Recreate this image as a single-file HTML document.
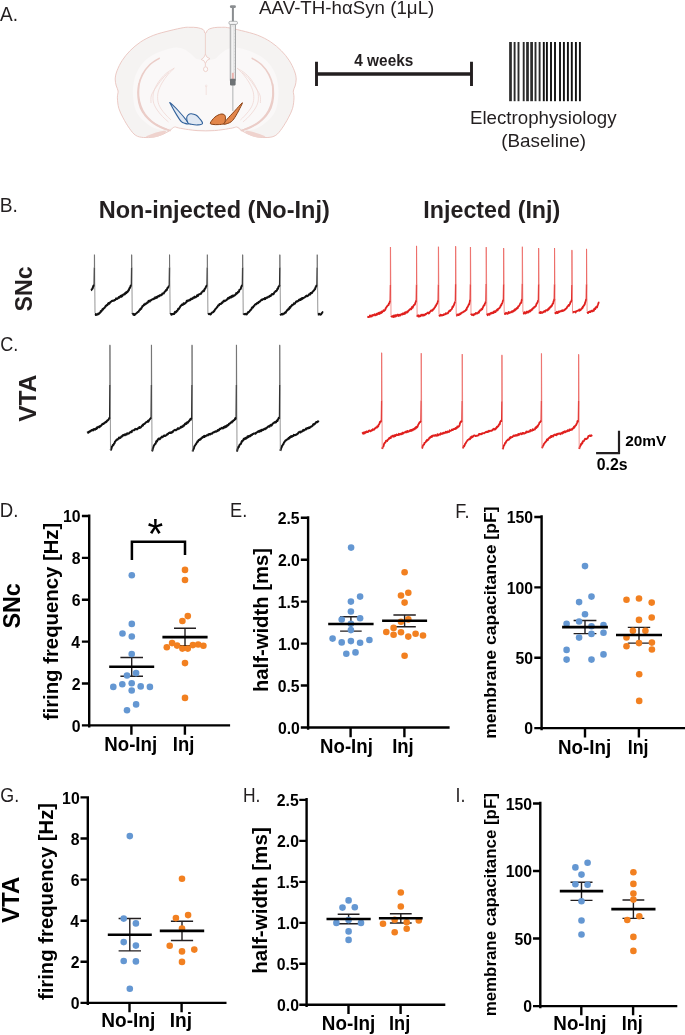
<!DOCTYPE html>
<html><head><meta charset="utf-8"><style>
html,body{margin:0;padding:0;background:#fff;}
svg{display:block;font-family:"Liberation Sans",sans-serif;filter:blur(0.3px);}
</style></head><body>
<svg width="685" height="1035" viewBox="0 0 685 1035">
<rect width="685" height="1035" fill="#fff"/>
<path d="M205.40 33.50C204.57 33.50 204.60 30.58 203.20 29.60C201.80 28.62 199.20 27.98 197.00 27.60C194.80 27.22 192.20 27.30 190.00 27.30C187.80 27.30 187.13 27.05 183.80 27.60C180.47 28.15 175.00 29.33 170.00 30.60C165.00 31.87 158.68 33.32 153.80 35.20C148.92 37.08 144.65 39.32 140.70 41.90C136.75 44.48 133.17 47.63 130.10 50.70C127.03 53.77 124.48 56.95 122.30 60.30C120.12 63.65 118.18 67.68 117.00 70.80C115.82 73.92 115.32 76.47 115.20 79.00C115.08 81.53 115.82 84.00 116.30 86.00C116.78 88.00 117.92 89.03 118.10 91.00C118.28 92.97 117.28 94.92 117.40 97.80C117.52 100.68 117.85 104.95 118.80 108.30C119.75 111.65 121.35 114.58 123.10 117.90C124.85 121.22 127.22 125.30 129.30 128.20C131.38 131.10 133.23 133.75 135.60 135.30C137.97 136.85 140.47 137.22 143.50 137.50C146.53 137.78 150.55 137.55 153.80 137.00C157.05 136.45 160.30 135.30 163.00 134.20C165.70 133.10 168.10 131.60 170.00 130.40C171.90 129.20 172.98 127.42 174.40 127.00C175.82 126.58 176.17 127.47 178.50 127.90C180.83 128.33 185.32 129.15 188.40 129.60C191.48 130.05 194.12 130.38 197.00 130.60C199.88 130.82 202.80 130.90 205.70 130.90C208.60 130.90 211.52 130.82 214.40 130.60C217.28 130.38 219.92 130.05 223.00 129.60C226.08 129.15 230.57 128.33 232.90 127.90C235.23 127.47 235.58 126.58 237.00 127.00C238.42 127.42 239.50 129.20 241.40 130.40C243.30 131.60 245.70 133.10 248.40 134.20C251.10 135.30 254.35 136.45 257.60 137.00C260.85 137.55 264.87 137.78 267.90 137.50C270.93 137.22 273.43 136.85 275.80 135.30C278.17 133.75 280.02 131.10 282.10 128.20C284.18 125.30 286.55 121.22 288.30 117.90C290.05 114.58 291.65 111.65 292.60 108.30C293.55 104.95 293.88 100.68 294.00 97.80C294.12 94.92 293.12 92.97 293.30 91.00C293.48 89.03 294.62 88.00 295.10 86.00C295.58 84.00 296.32 81.53 296.20 79.00C296.08 76.47 295.58 73.92 294.40 70.80C293.22 67.68 291.28 63.65 289.10 60.30C286.92 56.95 284.37 53.77 281.30 50.70C278.23 47.63 274.65 44.48 270.70 41.90C266.75 39.32 262.48 37.08 257.60 35.20C252.72 33.32 246.40 31.87 241.40 30.60C236.40 29.33 230.93 28.15 227.60 27.60C224.27 27.05 223.60 27.30 221.40 27.30C219.20 27.30 216.60 27.22 214.40 27.60C212.20 27.98 209.70 28.62 208.20 29.60C206.70 30.58 206.23 33.50 205.40 33.50Z" fill="#F5F3F2" stroke="#EAC4BE" stroke-width="0.9"/>
<path d="M205.70 60.20C203.97 60.20 202.20 60.13 200.50 59.80C198.80 59.47 197.17 59.25 195.50 58.20C193.83 57.15 192.42 55.00 190.50 53.50C188.58 52.00 186.42 50.18 184.00 49.20C181.58 48.22 179.17 47.47 176.00 47.60C172.83 47.73 169.00 48.68 165.00 50.00C161.00 51.32 155.83 53.17 152.00 55.50C148.17 57.83 144.75 60.67 142.00 64.00C139.25 67.33 137.00 71.33 135.50 75.50C134.00 79.67 133.32 84.67 133.00 89.00C132.68 93.33 132.97 97.58 133.60 101.50C134.23 105.42 135.18 109.33 136.80 112.50C138.42 115.67 140.77 118.08 143.30 120.50C145.83 122.92 149.05 125.42 152.00 127.00C154.95 128.58 158.33 129.67 161.00 130.00C163.67 130.33 165.83 129.60 168.00 129.00C170.17 128.40 172.17 126.70 174.00 126.40C175.83 126.10 176.33 126.80 179.00 127.20C181.67 127.60 185.55 128.33 190.00 128.80C194.45 129.27 200.47 130.00 205.70 130.00C210.93 130.00 216.95 129.27 221.40 128.80C225.85 128.33 229.73 127.60 232.40 127.20C235.07 126.80 235.57 126.10 237.40 126.40C239.23 126.70 241.23 128.40 243.40 129.00C245.57 129.60 247.73 130.33 250.40 130.00C253.07 129.67 256.45 128.58 259.40 127.00C262.35 125.42 265.57 122.92 268.10 120.50C270.63 118.08 272.98 115.67 274.60 112.50C276.22 109.33 277.17 105.42 277.80 101.50C278.43 97.58 278.72 93.33 278.40 89.00C278.08 84.67 277.40 79.67 275.90 75.50C274.40 71.33 272.15 67.33 269.40 64.00C266.65 60.67 263.23 57.83 259.40 55.50C255.57 53.17 250.40 51.32 246.40 50.00C242.40 48.68 238.57 47.73 235.40 47.60C232.23 47.47 229.82 48.22 227.40 49.20C224.98 50.18 222.82 52.00 220.90 53.50C218.98 55.00 217.57 57.15 215.90 58.20C214.23 59.25 212.60 59.47 210.90 59.80C209.20 60.13 207.43 60.20 205.70 60.20Z" fill="#FAF8F8" stroke="none"/>
<path d="M159.20 58.30C157.67 59.33 152.78 61.80 150.00 64.50C147.22 67.20 144.40 70.92 142.50 74.50C140.60 78.08 139.32 82.08 138.60 86.00C137.88 89.92 137.88 94.33 138.20 98.00C138.52 101.67 139.28 105.00 140.50 108.00C141.72 111.00 143.50 113.58 145.50 116.00C147.50 118.42 149.92 120.58 152.50 122.50C155.08 124.42 158.08 126.15 161.00 127.50C163.92 128.85 168.50 130.08 170.00 130.60" fill="none" stroke="#EBCDC8" stroke-width="1.6" stroke-linecap="round"/>
<path d="M252.20 58.30C253.73 59.33 258.62 61.80 261.40 64.50C264.18 67.20 267.00 70.92 268.90 74.50C270.80 78.08 272.08 82.08 272.80 86.00C273.52 89.92 273.52 94.33 273.20 98.00C272.88 101.67 272.12 105.00 270.90 108.00C269.68 111.00 267.90 113.58 265.90 116.00C263.90 118.42 261.48 120.58 258.90 122.50C256.32 124.42 253.32 126.15 250.40 127.50C247.48 128.85 242.90 130.08 241.40 130.60" fill="none" stroke="#EBCDC8" stroke-width="1.6" stroke-linecap="round"/>
<path d="M138.80 84.00C138.77 86.00 138.27 92.33 138.60 96.00C138.93 99.67 139.73 102.97 140.80 106.00C141.87 109.03 143.23 111.70 145.00 114.20C146.77 116.70 148.98 118.98 151.40 121.00C153.82 123.02 156.73 124.83 159.50 126.30C162.27 127.77 166.58 129.22 168.00 129.80" fill="none" stroke="#EBCDC8" stroke-width="1.6" stroke-linecap="round"/>
<path d="M272.60 84.00C272.63 86.00 273.13 92.33 272.80 96.00C272.47 99.67 271.67 102.97 270.60 106.00C269.53 109.03 268.17 111.70 266.40 114.20C264.63 116.70 262.42 118.98 260.00 121.00C257.58 123.02 254.67 124.83 251.90 126.30C249.13 127.77 244.82 129.22 243.40 129.80" fill="none" stroke="#EBCDC8" stroke-width="1.6" stroke-linecap="round"/>
<path d="M174.30 68.20C172.92 69.08 168.63 71.20 166.00 73.50C163.37 75.80 160.53 79.00 158.50 82.00C156.47 85.00 154.68 88.33 153.80 91.50C152.92 94.67 152.75 98.08 153.20 101.00C153.65 103.92 154.95 106.42 156.50 109.00C158.05 111.58 160.50 114.33 162.50 116.50C164.50 118.67 167.50 121.08 168.50 122.00" fill="none" stroke="#EFD6D2" stroke-width="0.75"/>
<path d="M237.10 68.20C238.48 69.08 242.77 71.20 245.40 73.50C248.03 75.80 250.87 79.00 252.90 82.00C254.93 85.00 256.72 88.33 257.60 91.50C258.48 94.67 258.65 98.08 258.20 101.00C257.75 103.92 256.45 106.42 254.90 109.00C253.35 111.58 250.90 114.33 248.90 116.50C246.90 118.67 243.90 121.08 242.90 122.00" fill="none" stroke="#EFD6D2" stroke-width="0.75"/>
<path d="M174.30 68.20C173.25 69.25 170.05 72.03 168.00 74.50C165.95 76.97 163.63 80.08 162.00 83.00C160.37 85.92 158.90 89.08 158.20 92.00C157.50 94.92 157.42 97.83 157.80 100.50C158.18 103.17 159.13 105.58 160.50 108.00C161.87 110.42 164.25 113.00 166.00 115.00C167.75 117.00 170.17 119.17 171.00 120.00" fill="none" stroke="#EFD6D2" stroke-width="0.75"/>
<path d="M237.10 68.20C238.15 69.25 241.35 72.03 243.40 74.50C245.45 76.97 247.77 80.08 249.40 83.00C251.03 85.92 252.50 89.08 253.20 92.00C253.90 94.92 253.98 97.83 253.60 100.50C253.22 103.17 252.27 105.58 250.90 108.00C249.53 110.42 247.15 113.00 245.40 115.00C243.65 117.00 241.23 119.17 240.40 120.00" fill="none" stroke="#EFD6D2" stroke-width="0.75"/>
<path d="M169.00 72.50C168.00 73.42 165.00 75.75 163.00 78.00C161.00 80.25 158.92 83.17 157.00 86.00C155.08 88.83 152.50 92.17 151.50 95.00C150.50 97.83 151.08 101.67 151.00 103.00" fill="none" stroke="#EFD6D2" stroke-width="0.75"/>
<path d="M242.40 72.50C243.40 73.42 246.40 75.75 248.40 78.00C250.40 80.25 252.48 83.17 254.40 86.00C256.32 88.83 258.90 92.17 259.90 95.00C260.90 97.83 260.32 101.67 260.40 103.00" fill="none" stroke="#EFD6D2" stroke-width="0.75"/>
<path d="M146.00 136.80C145.50 136.27 149.67 134.88 152.00 134.00C154.33 133.12 157.67 132.00 160.00 131.50C162.33 131.00 165.50 130.50 166.00 131.00C166.50 131.50 164.83 133.47 163.00 134.50C161.17 135.53 157.83 136.82 155.00 137.20C152.17 137.58 146.50 137.33 146.00 136.80Z" fill="#EFD3CE"/>
<path d="M265.40 136.80C265.90 136.27 261.73 134.88 259.40 134.00C257.07 133.12 253.73 132.00 251.40 131.50C249.07 131.00 245.90 130.50 245.40 131.00C244.90 131.50 246.57 133.47 248.40 134.50C250.23 135.53 253.57 136.82 256.40 137.20C259.23 137.58 264.90 137.33 265.40 136.80Z" fill="#EFD3CE"/>
<path d="M205.4 33.5V54.1" stroke="#EBC9C3" stroke-width="0.8" fill="none"/>
<path d="M205.4 54.1Q206.2 57.8 210 58.7Q206.2 60 205.4 63.6Q204.6 60 201.2 59.5Q204.6 57.8 205.4 54.1Z" fill="#FCFBFB" stroke="#EBC9C3" stroke-width="0.8"/>
<path d="M205.4 63.6V66.6" stroke="#EBC9C3" stroke-width="0.8"/>
<ellipse cx="205.6" cy="69.2" rx="2.1" ry="2.4" fill="#FCFBFB" stroke="#EBC9C3" stroke-width="0.8"/>
<path d="M206.2 86.2V95" stroke="#F0DAD6" stroke-width="0.7"/><circle cx="206.2" cy="85.9" r="0.9" fill="none" stroke="#F0DAD6" stroke-width="0.6"/>
<path d="M170.30 102.90C171.45 103.78 175.37 107.53 178.10 110.50C180.83 113.47 185.00 118.45 186.70 120.70C188.40 122.95 188.63 123.57 188.30 124.00C187.97 124.43 185.85 123.68 184.70 123.30C183.55 122.92 182.72 123.07 181.40 121.70C180.08 120.33 178.50 117.85 176.80 115.10C175.10 112.35 172.28 107.23 171.20 105.20C170.12 103.17 169.15 102.02 170.30 102.90Z" fill="#E0E8F3" stroke="#30609A" stroke-width="1.1" stroke-linejoin="round"/>
<path d="M186.70 117.70C186.78 116.30 187.73 115.25 188.50 114.60C189.27 113.95 190.07 113.72 191.30 113.80C192.53 113.88 194.53 114.32 195.90 115.10C197.27 115.88 198.40 117.13 199.50 118.50C200.60 119.87 202.77 122.23 202.50 123.30C202.23 124.37 199.77 124.73 197.90 124.90C196.03 125.07 192.95 124.62 191.30 124.30C189.65 123.98 188.77 124.10 188.00 123.00C187.23 121.90 186.62 119.10 186.70 117.70Z" fill="#E0E8F3" stroke="#30609A" stroke-width="1.1" stroke-linejoin="round"/>
<path d="M210.30 123.00C210.63 121.78 213.15 118.58 214.90 117.10C216.65 115.62 219.17 114.43 220.80 114.10C222.43 113.77 223.93 114.28 224.70 115.10C225.47 115.92 225.50 117.58 225.40 119.00C225.30 120.42 225.32 122.67 224.10 123.60C222.88 124.53 219.97 124.47 218.10 124.60C216.23 124.73 214.20 124.67 212.90 124.40C211.60 124.13 209.97 124.22 210.30 123.00Z" fill="#E3864A" stroke="#8A4216" stroke-width="1.0" stroke-linejoin="round"/>
<path d="M242.10 102.90C243.13 102.13 241.83 104.37 240.80 106.50C239.77 108.63 237.48 113.17 235.90 115.70C234.32 118.23 233.17 120.27 231.30 121.70C229.43 123.13 225.90 123.98 224.70 124.30C223.50 124.62 223.67 124.48 224.10 123.60C224.53 122.72 225.55 121.08 227.30 119.00C229.05 116.92 232.13 113.78 234.60 111.10C237.07 108.42 241.07 103.67 242.10 102.90Z" fill="#E3864A" stroke="#8A4216" stroke-width="1.0" stroke-linejoin="round"/>
<path d="M232.8 85V111" stroke="#C4C5C6" stroke-width="1.4"/>
<rect x="230.2" y="24.3" width="5.2" height="56" fill="#E6E6E6" stroke="#939597" stroke-width="0.8"/>
<path d="M232.6 27V76" stroke="#F4F4F4" stroke-width="1.0"/>
<path d="M234.6 30V75" stroke="#B8B8B8" stroke-width="0.4" stroke-dasharray="0.6 2.4"/>
<rect x="231.9" y="72.8" width="1.9" height="6.5" fill="#EBB3AE"/>
<rect x="230.0" y="78.8" width="5.6" height="6.6" rx="0.8" fill="#6E7275"/>
<rect x="231.9" y="7.5" width="2" height="15" fill="#8A8D90"/>
<rect x="229.9" y="5.2" width="6" height="2.9" rx="1.4" fill="#8A8D90"/>
<rect x="228.9" y="21.3" width="8.6" height="3.1" rx="1.4" fill="#F6F6F6" stroke="#9A9C9E" stroke-width="0.7"/>
<path d="M316.5 74H471.5" stroke="#231F20" stroke-width="3.5"/>
<path d="M316.5 61.8V85.9M471.5 61.8V85.9" stroke="#231F20" stroke-width="2.9"/>
<rect x="509.15" y="42" width="2.70" height="59.2" fill="#2B2B2B"/>
<rect x="513.65" y="42" width="1.90" height="59.2" fill="#2B2B2B"/>
<rect x="517.55" y="42" width="1.90" height="59.2" fill="#2B2B2B"/>
<rect x="522.75" y="42" width="1.90" height="59.2" fill="#2B2B2B"/>
<rect x="526.15" y="42" width="2.70" height="59.2" fill="#2B2B2B"/>
<rect x="530.25" y="42" width="2.70" height="59.2" fill="#2B2B2B"/>
<rect x="534.55" y="42" width="1.90" height="59.2" fill="#2B2B2B"/>
<rect x="538.65" y="42" width="1.90" height="59.2" fill="#2B2B2B"/>
<rect x="542.85" y="42" width="1.90" height="59.2" fill="#111"/>
<rect x="545.95" y="42" width="1.90" height="59.2" fill="#111"/>
<rect x="550.05" y="42" width="1.90" height="59.2" fill="#111"/>
<rect x="554.05" y="42" width="1.90" height="59.2" fill="#111"/>
<rect x="559.05" y="42" width="1.90" height="59.2" fill="#111"/>
<rect x="562.95" y="42" width="1.90" height="59.2" fill="#111"/>
<rect x="566.95" y="42" width="1.90" height="59.2" fill="#111"/>
<rect x="570.85" y="42" width="1.90" height="59.2" fill="#111"/>
<rect x="574.95" y="42" width="1.90" height="59.2" fill="#111"/>
<rect x="578.95" y="42" width="1.90" height="59.2" fill="#111"/>
<path d="M90.90 290.24 L91.35 290.05 L91.80 289.20 L92.25 288.88 L92.70 288.13 L93.15 286.42 L93.60 285.47 L94.05 286.15 M95.00 313.96 L95.45 313.93 L95.90 314.99 L96.35 314.26 L96.80 314.77 L97.25 314.27 L97.70 314.48 L98.15 313.64 L98.60 314.00 L99.05 313.88 L99.50 312.94 L99.95 312.80 L100.40 312.25 L100.85 310.94 L101.30 311.46 L101.75 310.75 L102.20 309.84 L102.65 308.93 L103.10 309.56 L103.55 308.47 L104.00 308.28 L104.45 307.96 L104.90 307.19 L105.35 306.95 L105.80 305.71 L106.25 305.85 L106.70 304.99 L107.15 305.33 L107.60 304.90 L108.05 303.46 L108.50 303.16 L108.95 302.93 L109.40 303.63 L109.85 302.54 L110.30 302.46 L110.75 301.65 L111.20 301.60 L111.65 301.13 L112.10 300.81 L112.55 300.89 L113.00 300.64 L113.45 300.85 L113.90 300.29 L114.35 300.39 L114.80 300.04 L115.25 299.98 L115.70 299.29 L116.15 298.33 L116.60 299.06 L117.05 298.96 L117.50 298.64 L117.95 297.92 L118.40 297.89 L118.85 296.96 L119.30 297.59 L119.75 297.00 L120.20 296.36 L120.65 295.82 L121.10 296.69 L121.55 296.65 L122.00 295.15 L122.45 295.88 L122.90 295.03 L123.35 294.35 L123.80 294.23 L124.25 294.57 L124.70 294.40 L125.15 292.92 L125.60 293.40 L126.05 292.28 L126.50 292.87 L126.95 291.88 L127.40 292.08 L127.85 291.61 L128.30 290.34 L128.75 290.42 L129.20 288.84 L129.65 287.82 L130.10 287.70 L130.55 285.94 L131.00 285.46 L131.45 285.42 M132.20 314.45 L132.65 313.82 L133.10 313.66 L133.55 314.81 L134.00 314.04 L134.45 314.94 L134.90 314.85 L135.35 314.00 L135.80 313.82 L136.25 313.48 L136.70 313.21 L137.15 312.70 L137.60 312.20 L138.05 311.84 L138.50 311.84 L138.95 310.78 L139.40 310.19 L139.85 310.08 L140.30 308.87 L140.75 308.43 L141.20 308.85 L141.65 307.68 L142.10 307.19 L142.55 305.91 L143.00 305.96 L143.45 305.74 L143.90 304.57 L144.35 305.06 L144.80 304.74 L145.25 303.60 L145.70 304.05 L146.15 303.48 L146.60 303.44 L147.05 302.64 L147.50 302.80 L147.95 302.50 L148.40 301.15 L148.85 300.88 L149.30 301.46 L149.75 301.60 L150.20 300.37 L150.65 300.41 L151.10 300.36 L151.55 299.74 L152.00 299.56 L152.45 299.25 L152.90 299.08 L153.35 299.16 L153.80 298.50 L154.25 298.37 L154.70 298.68 L155.15 297.40 L155.60 297.92 L156.05 297.92 L156.50 297.10 L156.95 296.75 L157.40 297.34 L157.85 296.32 L158.30 296.02 L158.75 296.14 L159.20 296.28 L159.65 295.21 L160.10 295.26 L160.55 294.98 L161.00 295.37 L161.45 294.50 L161.90 294.77 L162.35 293.50 L162.80 293.42 L163.25 293.54 L163.70 293.56 L164.15 292.63 L164.60 291.90 L165.05 291.24 L165.50 291.22 L165.95 290.15 L166.40 290.41 L166.85 289.86 L167.30 288.31 L167.75 287.68 L168.20 287.52 L168.65 286.41 L169.10 286.13 M170.10 314.08 L170.55 313.78 L171.00 314.01 L171.45 314.71 L171.90 313.98 L172.35 314.08 L172.80 314.18 L173.25 314.05 L173.70 313.74 L174.15 314.03 L174.60 312.51 L175.05 311.85 L175.50 312.72 L175.95 312.19 L176.40 311.89 L176.85 310.66 L177.30 310.89 L177.75 310.34 L178.20 308.82 L178.65 309.03 L179.10 308.63 L179.55 307.85 L180.00 307.12 L180.45 306.27 L180.90 305.83 L181.35 305.22 L181.80 304.61 L182.25 305.00 L182.70 304.23 L183.15 304.62 L183.60 303.21 L184.05 304.07 L184.50 303.43 L184.95 303.41 L185.40 303.03 L185.85 302.69 L186.30 301.90 L186.75 300.78 L187.20 301.52 L187.65 300.47 L188.10 300.41 L188.55 300.67 L189.00 300.24 L189.45 299.84 L189.90 300.33 L190.35 299.64 L190.80 299.01 L191.25 298.65 L191.70 299.26 L192.15 298.48 L192.60 298.66 L193.05 297.82 L193.50 297.37 L193.95 297.61 L194.40 297.78 L194.85 296.64 L195.30 297.28 L195.75 297.24 L196.20 296.85 L196.65 296.64 L197.10 295.27 L197.55 295.90 L198.00 295.97 L198.45 294.53 L198.90 294.53 L199.35 294.21 L199.80 294.26 L200.25 293.80 L200.70 293.55 L201.15 293.66 L201.60 292.26 L202.05 292.00 L202.50 291.67 L202.95 291.13 L203.40 290.46 L203.85 291.12 L204.30 290.36 L204.75 288.68 L205.20 288.61 L205.65 287.55 L206.10 286.62 L206.55 285.85 L207.00 285.84 M207.90 314.42 L208.35 314.11 L208.80 313.87 L209.25 314.06 L209.70 313.77 L210.15 314.38 L210.60 314.55 L211.05 313.84 L211.50 313.00 L211.95 312.66 L212.40 312.46 L212.85 312.30 L213.30 312.08 L213.75 311.04 L214.20 311.13 L214.65 310.36 L215.10 309.53 L215.55 308.88 L216.00 308.48 L216.45 308.20 L216.90 307.24 L217.35 307.06 L217.80 306.17 L218.25 305.36 L218.70 305.34 L219.15 305.19 L219.60 303.95 L220.05 304.08 L220.50 303.71 L220.95 303.98 L221.40 303.70 L221.85 302.54 L222.30 302.91 L222.75 302.39 L223.20 301.29 L223.65 301.25 L224.10 300.49 L224.55 301.20 L225.00 300.73 L225.45 300.78 L225.90 300.39 L226.35 299.96 L226.80 299.79 L227.25 299.29 L227.70 298.39 L228.15 298.81 L228.60 297.73 L229.05 297.67 L229.50 298.29 L229.95 297.02 L230.40 296.84 L230.85 296.61 L231.30 297.46 L231.75 296.23 L232.20 295.77 L232.65 296.67 L233.10 295.42 L233.55 296.17 L234.00 295.64 L234.45 295.55 L234.90 295.37 L235.35 294.51 L235.80 294.48 L236.25 293.08 L236.70 293.77 L237.15 293.07 L237.60 293.01 L238.05 291.72 L238.50 292.06 L238.95 291.68 L239.40 289.81 L239.85 289.54 L240.30 289.23 L240.75 288.87 L241.20 287.15 L241.65 286.06 L242.10 285.46 L242.55 285.68 M243.20 314.65 L243.65 314.15 L244.10 314.11 L244.55 314.16 L245.00 314.09 L245.45 314.19 L245.90 313.70 L246.35 314.13 L246.80 314.47 L247.25 313.24 L247.70 313.26 L248.15 311.98 L248.60 312.27 L249.05 311.91 L249.50 311.34 L249.95 310.65 L250.40 310.10 L250.85 309.79 L251.30 309.60 L251.75 308.02 L252.20 307.41 L252.65 307.78 L253.10 307.48 L253.55 306.38 L254.00 305.78 L254.45 305.73 L254.90 304.63 L255.35 304.39 L255.80 303.95 L256.25 304.14 L256.70 303.41 L257.15 302.95 L257.60 303.24 L258.05 303.26 L258.50 301.99 L258.95 302.22 L259.40 301.47 L259.85 301.78 L260.30 301.14 L260.75 300.45 L261.20 300.13 L261.65 299.61 L262.10 300.01 L262.55 299.62 L263.00 299.08 L263.45 299.10 L263.90 298.80 L264.35 299.19 L264.80 298.06 L265.25 299.00 L265.70 298.04 L266.15 297.97 L266.60 297.55 L267.05 297.83 L267.50 297.58 L267.95 296.98 L268.40 296.64 L268.85 296.74 L269.30 296.70 L269.75 295.83 L270.20 296.05 L270.65 296.10 L271.10 295.11 L271.55 294.46 L272.00 294.14 L272.45 294.50 L272.90 294.12 L273.35 294.20 L273.80 293.73 L274.25 292.56 L274.70 292.13 L275.15 291.78 L275.60 291.11 L276.05 291.23 L276.50 290.83 L276.95 290.28 L277.40 288.77 L277.85 288.92 L278.30 287.30 L278.75 286.49 L279.20 286.20 L279.65 284.97 M280.40 313.73 L280.85 314.77 L281.30 314.01 L281.75 314.10 L282.20 314.41 L282.65 314.55 L283.10 313.60 L283.55 313.91 L284.00 313.74 L284.45 313.37 L284.90 312.53 L285.35 312.61 L285.80 312.68 L286.25 311.43 L286.70 311.20 L287.15 310.14 L287.60 309.85 L288.05 309.87 L288.50 308.56 L288.95 309.11 L289.40 308.61 L289.85 306.93 L290.30 307.58 L290.75 306.25 L291.20 306.30 L291.65 305.84 L292.10 304.83 L292.55 305.02 L293.00 304.64 L293.45 304.51 L293.90 303.40 L294.35 303.74 L294.80 303.68 L295.25 302.93 L295.70 302.39 L296.15 301.46 L296.60 301.65 L297.05 301.14 L297.50 301.38 L297.95 301.08 L298.40 300.67 L298.85 299.89 L299.30 300.30 L299.75 300.03 L300.20 299.15 L300.65 299.90 L301.10 299.33 L301.55 298.34 L302.00 299.23 L302.45 297.88 L302.90 297.90 L303.35 298.20 L303.80 297.80 L304.25 297.51 L304.70 297.40 L305.15 296.91 L305.60 296.47 L306.05 296.05 L306.50 295.67 L306.95 296.34 L307.40 296.17 L307.85 295.61 L308.30 295.60 L308.75 294.75 L309.20 294.30 L309.65 294.15 L310.10 294.51 L310.55 293.03 L311.00 293.36 L311.45 292.68 L311.90 293.09 L312.35 292.10 L312.80 291.55 L313.25 291.05 L313.70 290.63 L314.15 290.35 L314.60 289.16 L315.05 289.21 L315.50 287.40 L315.95 286.69 L316.40 285.59 L316.85 285.13 M317.80 314.69 L318.25 314.62 L318.70 313.86 L319.15 313.86 L319.60 314.18 L320.05 314.64 L320.50 314.73 L320.95 314.49 L321.40 313.96 L321.85 312.89 L322.30 312.80 L322.75 312.06 L323.20 312.08" fill="none" stroke="#111" stroke-width="2.00" stroke-linejoin="round"/>
<path d="M94.15 286.50L94.40 267.52 M131.35 286.50L131.60 267.52 M169.25 286.50L169.50 267.52 M207.05 286.50L207.30 267.52 M242.35 286.50L242.60 267.52 M279.55 286.50L279.80 267.52 M316.95 286.50L317.20 267.52" fill="none" stroke="#111" stroke-width="1.30"/>
<path d="M94.40 267.52L94.40 254.50 M131.60 267.52L131.60 254.50 M169.50 267.52L169.50 254.50 M207.30 267.52L207.30 254.50 M242.60 267.52L242.60 254.50 M279.80 267.52L279.80 254.50 M317.20 267.52L317.20 254.50" fill="none" stroke="#555" stroke-width="0.90"/>
<path d="M94.55 255.00L95.00 313.30 M131.75 255.00L132.20 313.30 M169.65 255.00L170.10 313.30 M207.45 255.00L207.90 313.30 M242.75 255.00L243.20 313.30 M279.95 255.00L280.40 313.30 M317.35 255.00L317.80 313.30" fill="none" stroke="#777" stroke-width="0.77"/>
<path d="M367.30 316.70 L367.75 316.84 L368.20 316.87 L368.65 317.06 L369.10 316.68 L369.55 316.88 L370.00 315.36 L370.45 315.96 L370.90 316.63 L371.35 316.06 L371.80 316.37 L372.25 315.01 L372.70 315.48 L373.15 315.03 L373.60 315.41 L374.05 315.35 L374.50 314.32 L374.95 314.49 L375.40 314.43 L375.85 315.29 L376.30 314.90 L376.75 313.77 L377.20 314.63 L377.65 313.42 L378.10 314.03 L378.55 313.09 L379.00 312.73 L379.45 313.93 L379.90 312.60 L380.35 312.32 L380.80 313.26 L381.25 312.79 L381.70 311.57 L382.15 312.35 L382.60 311.39 L383.05 311.32 L383.50 310.27 L383.95 311.15 L384.40 310.33 L384.85 310.25 L385.30 309.61 L385.75 308.13 L386.20 307.70 L386.65 306.86 L387.10 306.28 L387.55 305.55 L388.00 305.30 L388.45 305.15 L388.90 303.43 L389.35 303.42 L389.80 301.71 L390.25 301.07 M391.00 317.11 L391.45 316.55 L391.90 316.24 L392.35 316.45 L392.80 316.75 L393.25 315.66 L393.70 317.07 L394.15 315.49 L394.60 316.57 L395.05 316.62 L395.50 315.20 L395.95 316.33 L396.40 315.55 L396.85 315.79 L397.30 314.78 L397.75 314.74 L398.20 314.86 L398.65 315.99 L399.10 314.68 L399.55 315.46 L400.00 315.59 L400.45 315.46 L400.90 314.34 L401.35 314.20 L401.80 314.31 L402.25 314.56 L402.70 313.33 L403.15 314.20 L403.60 314.12 L404.05 314.06 L404.50 312.59 L404.95 313.86 L405.40 312.25 L405.85 312.37 L406.30 312.51 L406.75 312.72 L407.20 311.51 L407.65 312.17 L408.10 311.28 L408.55 310.62 L409.00 310.35 L409.45 309.84 L409.90 309.36 L410.35 309.04 L410.80 309.40 L411.25 309.38 L411.70 307.54 L412.15 306.85 L412.60 307.84 L413.05 306.59 L413.50 305.81 L413.95 304.94 L414.40 304.91 L414.85 304.59 L415.30 303.02 L415.75 301.81 L416.20 300.47 M417.10 316.78 L417.55 315.34 L418.00 316.01 L418.45 316.50 L418.90 315.30 L419.35 316.20 L419.80 316.47 L420.25 315.85 L420.70 315.99 L421.15 314.78 L421.60 315.19 L422.05 314.62 L422.50 315.61 L422.95 314.62 L423.40 314.75 L423.85 315.51 L424.30 315.13 L424.75 315.15 L425.20 314.13 L425.65 314.00 L426.10 314.20 L426.55 313.61 L427.00 313.13 L427.45 313.12 L427.90 312.52 L428.35 312.71 L428.80 313.47 L429.25 313.11 L429.70 312.24 L430.15 311.70 L430.60 311.11 L431.05 310.38 L431.50 310.34 L431.95 310.82 L432.40 310.63 L432.85 309.45 L433.30 309.61 L433.75 308.99 L434.20 308.26 L434.65 307.61 L435.10 307.16 L435.55 305.90 L436.00 305.76 L436.45 304.37 L436.90 303.95 L437.35 303.32 L437.80 301.84 L438.25 300.44 M439.00 316.42 L439.45 315.89 L439.90 315.70 L440.35 314.71 L440.80 315.48 L441.25 314.89 L441.70 315.42 L442.15 314.94 L442.60 315.36 L443.05 314.94 L443.50 315.04 L443.95 314.17 L444.40 314.49 L444.85 314.42 L445.30 314.33 L445.75 313.33 L446.20 313.89 L446.65 313.70 L447.10 313.18 L447.55 313.41 L448.00 313.12 L448.45 312.03 L448.90 311.63 L449.35 310.63 L449.80 311.28 L450.25 311.02 L450.70 309.86 L451.15 309.78 L451.60 309.19 L452.05 308.44 L452.50 306.79 L452.95 307.01 L453.40 305.90 L453.85 305.15 L454.30 303.86 L454.75 302.92 L455.20 301.49 M456.20 315.60 L456.65 315.65 L457.10 314.45 L457.55 314.57 L458.00 314.89 L458.45 315.05 L458.90 314.19 L459.35 314.77 L459.80 314.51 L460.25 313.40 L460.70 313.91 L461.15 313.27 L461.60 312.72 L462.05 312.58 L462.50 312.61 L462.95 312.12 L463.40 311.87 L463.85 311.33 L464.30 311.57 L464.75 310.94 L465.20 310.83 L465.65 310.31 L466.10 309.26 L466.55 309.83 L467.00 307.65 L467.45 307.42 L467.90 306.35 L468.35 305.68 L468.80 304.22 L469.25 304.33 L469.70 302.15 L470.15 299.82 M471.00 315.17 L471.45 314.27 L471.90 314.90 L472.35 314.48 L472.80 314.77 L473.25 315.22 L473.70 314.84 L474.15 314.04 L474.60 314.51 L475.05 314.08 L475.50 313.49 L475.95 312.95 L476.40 313.43 L476.85 313.13 L477.30 313.51 L477.75 313.28 L478.20 312.45 L478.65 311.79 L479.10 312.40 L479.55 310.60 L480.00 310.32 L480.45 310.60 L480.90 310.23 L481.35 309.02 L481.80 309.35 L482.25 309.27 L482.70 307.69 L483.15 306.97 L483.60 305.83 L484.05 305.12 L484.50 305.29 L484.95 303.38 L485.40 303.04 L485.85 301.21 M486.80 314.71 L487.25 314.11 L487.70 315.17 L488.15 314.31 L488.60 314.09 L489.05 313.81 L489.50 314.73 L489.95 313.79 L490.40 313.31 L490.85 313.47 L491.30 312.75 L491.75 313.40 L492.20 312.96 L492.65 312.51 L493.10 313.06 L493.55 312.90 L494.00 311.37 L494.45 311.97 L494.90 311.32 L495.35 312.15 L495.80 311.67 L496.25 310.47 L496.70 310.10 L497.15 309.52 L497.60 310.45 L498.05 308.93 L498.50 309.03 L498.95 308.42 L499.40 308.17 L499.85 307.40 L500.30 306.91 L500.75 305.20 L501.20 305.51 L501.65 303.98 L502.10 303.51 L502.55 302.24 L503.00 300.68 L503.45 299.95 M504.20 313.73 L504.65 313.51 L505.10 314.05 L505.55 313.73 L506.00 312.77 L506.45 313.02 L506.90 313.22 L507.35 313.83 L507.80 313.65 L508.25 312.97 L508.70 311.99 L509.15 313.08 L509.60 312.39 L510.05 312.49 L510.50 312.52 L510.95 312.20 L511.40 311.75 L511.85 312.24 L512.30 311.20 L512.75 311.00 L513.20 311.54 L513.65 310.29 L514.10 310.22 L514.55 310.73 L515.00 309.15 L515.45 310.03 L515.90 309.44 L516.35 308.67 L516.80 308.08 L517.25 308.51 L517.70 308.29 L518.15 306.46 L518.60 306.36 L519.05 305.84 L519.50 305.13 L519.95 304.19 L520.40 303.17 L520.85 303.12 L521.30 302.50 L521.75 299.91 L522.20 299.36 M522.90 313.69 L523.35 313.59 L523.80 313.31 L524.25 312.21 L524.70 313.25 L525.15 313.53 L525.60 313.43 L526.05 312.82 L526.50 311.64 L526.95 312.77 L527.40 311.64 L527.85 312.18 L528.30 312.48 L528.75 311.88 L529.20 310.74 L529.65 310.78 L530.10 311.56 L530.55 310.12 L531.00 310.64 L531.45 310.07 L531.90 309.30 L532.35 309.64 L532.80 308.32 L533.25 308.04 L533.70 308.08 L534.15 307.19 L534.60 306.70 L535.05 306.85 L535.50 306.40 L535.95 305.91 L536.40 304.01 L536.85 303.68 L537.30 302.65 L537.75 302.01 L538.20 300.27 M539.20 313.63 L539.65 312.67 L540.10 312.08 L540.55 313.04 L541.00 312.08 L541.45 312.72 L541.90 312.38 L542.35 312.89 L542.80 312.18 L543.25 312.15 L543.70 311.44 L544.15 311.75 L544.60 311.07 L545.05 311.65 L545.50 311.05 L545.95 310.22 L546.40 310.16 L546.85 310.16 L547.30 310.53 L547.75 309.32 L548.20 309.78 L548.65 309.29 L549.10 307.98 L549.55 308.52 L550.00 307.20 L550.45 306.83 L550.90 306.94 L551.35 305.66 L551.80 305.96 L552.25 304.61 L552.70 303.57 L553.15 303.48 L553.60 301.23 L554.05 300.78 L554.50 298.92 M555.10 312.14 L555.55 313.37 L556.00 312.88 L556.45 312.08 L556.90 311.84 L557.35 313.12 L557.80 312.51 L558.25 312.64 L558.70 311.43 L559.15 312.08 L559.60 311.53 L560.05 311.22 L560.50 311.25 L560.95 311.53 L561.40 310.91 L561.85 310.77 L562.30 310.18 L562.75 311.09 L563.20 310.61 L563.65 310.66 L564.10 309.87 L564.55 310.24 L565.00 309.35 L565.45 309.11 L565.90 308.72 L566.35 308.63 L566.80 307.72 L567.25 306.89 L567.70 306.32 L568.15 305.95 L568.60 305.05 L569.05 305.76 L569.50 304.45 L569.95 304.17 L570.40 302.18 L570.85 302.05 L571.30 301.34 L571.75 299.88 M572.50 312.50 L572.95 312.49 L573.40 311.83 L573.85 311.84 L574.30 311.74 L574.75 311.94 L575.20 311.82 L575.65 312.47 L576.10 311.16 L576.55 311.18 L577.00 311.07 L577.45 310.66 L577.90 310.63 L578.35 310.32 L578.80 310.48 L579.25 309.53 L579.70 310.73 L580.15 309.56 L580.60 310.06 L581.05 309.23 L581.50 308.79 L581.95 308.04 L582.40 308.37 L582.85 306.58 L583.30 306.73 L583.75 305.36 L584.20 305.20 L584.65 304.49 L585.10 302.68 L585.55 301.77 L586.00 299.90 L586.45 299.14 M587.10 311.87 L587.55 312.31 L588.00 313.14 L588.45 312.09 L588.90 311.87 L589.35 311.96 L589.80 311.52 L590.25 312.08 L590.70 311.91 L591.15 310.86 L591.60 310.77 L592.05 311.21 L592.50 311.39 L592.95 310.67 L593.40 310.08 L593.85 310.70 L594.30 308.82 L594.75 308.45 L595.20 309.15 L595.65 308.10 L596.10 307.06 L596.55 307.41 L597.00 307.42 L597.45 305.84 L597.90 304.74 L598.35 303.48 L598.80 302.48 L599.25 302.73" fill="none" stroke="#E0201E" stroke-width="1.85" stroke-linejoin="round"/>
<path d="M390.15 302.30L390.40 285.01 M416.25 301.99L416.50 284.44 M438.15 301.68L438.40 284.46 M455.35 301.43L455.60 284.13 M470.15 301.22L470.40 284.26 M485.95 301.00L486.20 284.10 M503.35 300.79L503.60 284.25 M522.05 300.73L522.30 283.79 M538.35 300.68L538.60 284.18 M554.25 300.64L554.50 284.15 M571.65 300.58L571.90 284.68 M586.25 300.54L586.50 284.32" fill="none" stroke="#E0201E" stroke-width="1.30"/>
<path d="M390.40 285.01L390.40 247.00 M416.50 284.44L416.50 245.80 M438.40 284.46L438.40 246.60 M455.60 284.13L455.60 246.10 M470.40 284.26L470.40 247.00 M486.20 284.10L486.20 247.00 M503.60 284.25L503.60 248.00 M522.30 283.79L522.30 246.60 M538.60 284.18L538.60 248.00 M554.50 284.15L554.50 248.00 M571.90 284.68L571.90 249.90 M586.50 284.32L586.50 248.80" fill="none" stroke="#E9524E" stroke-width="0.90"/>
<path d="M390.55 247.50L391.00 315.59 M416.65 246.30L417.10 315.11 M438.55 247.10L439.00 314.71 M455.75 246.60L456.20 314.38 M470.55 247.50L471.00 313.99 M486.35 247.50L486.80 313.55 M503.75 248.50L504.20 312.78 M522.45 247.10L522.90 312.18 M538.75 248.50L539.20 311.93 M554.65 248.50L555.10 311.70 M572.05 250.40L572.50 311.62 M586.65 249.30L587.10 311.56" fill="none" stroke="#EE7672" stroke-width="0.77"/>
<path d="M87.30 432.76 L87.75 432.28 L88.20 432.74 L88.65 431.69 L89.10 432.10 L89.55 431.63 L90.00 430.96 L90.45 431.35 L90.90 430.45 L91.35 430.77 L91.80 430.02 L92.25 429.81 L92.70 430.04 L93.15 430.37 L93.60 429.16 L94.05 429.08 L94.50 429.42 L94.95 429.65 L95.40 428.91 L95.85 428.44 L96.30 429.03 L96.75 427.51 L97.20 428.43 L97.65 427.41 L98.10 426.99 L98.55 426.73 L99.00 426.77 L99.45 427.23 L99.90 426.05 L100.35 426.28 L100.80 426.02 L101.25 425.31 L101.70 425.22 L102.15 424.20 L102.60 423.86 L103.05 423.73 L103.50 424.05 L103.95 423.36 L104.40 422.86 L104.85 422.90 L105.30 422.35 L105.75 421.78 L106.20 422.10 L106.65 421.60 L107.10 420.60 L107.55 420.65 L108.00 420.04 L108.45 419.87 L108.90 418.99 L109.35 417.93 L109.80 418.69 M110.50 450.36 L110.95 449.62 L111.40 448.78 L111.85 446.85 L112.30 446.47 L112.75 445.07 L113.20 445.19 L113.65 444.56 L114.10 443.52 L114.55 443.18 L115.00 441.63 L115.45 441.39 L115.90 440.57 L116.35 440.02 L116.80 439.48 L117.25 439.73 L117.70 439.58 L118.15 438.64 L118.60 438.62 L119.05 437.48 L119.50 438.09 L119.95 437.73 L120.40 437.92 L120.85 437.40 L121.30 436.36 L121.75 436.23 L122.20 436.38 L122.65 435.27 L123.10 435.68 L123.55 435.07 L124.00 434.80 L124.45 434.52 L124.90 435.31 L125.35 434.22 L125.80 434.18 L126.25 434.18 L126.70 434.63 L127.15 433.29 L127.60 433.57 L128.05 433.47 L128.50 433.70 L128.95 433.37 L129.40 433.20 L129.85 432.14 L130.30 432.09 L130.75 431.78 L131.20 432.27 L131.65 432.14 L132.10 430.77 L132.55 430.57 L133.00 430.41 L133.45 430.17 L133.90 430.29 L134.35 430.19 L134.80 429.50 L135.25 428.92 L135.70 429.28 L136.15 428.99 L136.60 429.04 L137.05 429.36 L137.50 428.78 L137.95 428.31 L138.40 428.24 L138.85 428.10 L139.30 427.01 L139.75 427.97 L140.20 427.58 L140.65 427.49 L141.10 427.11 L141.55 426.24 L142.00 425.91 L142.45 425.16 L142.90 425.57 L143.35 424.43 L143.80 424.10 L144.25 423.96 L144.70 423.55 L145.15 423.46 L145.60 422.72 L146.05 422.31 L146.50 422.17 L146.95 421.74 L147.40 421.74 L147.85 420.90 L148.30 421.72 L148.75 420.99 L149.20 419.88 L149.65 419.45 L150.10 418.89 L150.55 418.30 L151.00 417.62 M152.00 451.36 L152.45 450.35 L152.90 448.28 L153.35 447.22 L153.80 445.81 L154.25 445.05 L154.70 444.61 L155.15 443.71 L155.60 443.72 L156.05 442.00 L156.50 441.03 L156.95 441.55 L157.40 440.30 L157.85 439.28 L158.30 439.50 L158.75 438.48 L159.20 438.89 L159.65 439.23 L160.10 438.77 L160.55 438.24 L161.00 437.34 L161.45 437.19 L161.90 436.62 L162.35 437.17 L162.80 436.55 L163.25 436.63 L163.70 435.78 L164.15 435.42 L164.60 436.04 L165.05 436.08 L165.50 435.69 L165.95 435.42 L166.40 435.23 L166.85 434.92 L167.30 433.99 L167.75 434.18 L168.20 433.72 L168.65 433.02 L169.10 432.77 L169.55 432.88 L170.00 432.61 L170.45 432.97 L170.90 433.10 L171.35 432.14 L171.80 432.58 L172.25 432.41 L172.70 432.12 L173.15 431.05 L173.60 430.61 L174.05 430.37 L174.50 430.09 L174.95 429.85 L175.40 430.20 L175.85 430.35 L176.30 430.04 L176.75 429.31 L177.20 429.32 L177.65 429.31 L178.10 428.08 L178.55 428.66 L179.00 428.79 L179.45 428.38 L179.90 428.11 L180.35 427.51 L180.80 426.86 L181.25 427.49 L181.70 426.60 L182.15 426.97 L182.60 426.87 L183.05 425.72 L183.50 425.38 L183.95 425.80 L184.40 425.14 L184.85 424.02 L185.30 423.61 L185.75 423.30 L186.20 424.01 L186.65 423.53 L187.10 422.25 L187.55 422.84 L188.00 422.68 L188.45 421.85 L188.90 421.05 L189.35 420.95 L189.80 419.91 L190.25 419.17 L190.70 419.81 L191.15 418.72 L191.60 418.19 M192.60 451.56 L193.05 449.85 L193.50 449.21 L193.95 448.08 L194.40 446.35 L194.85 445.69 L195.30 445.03 L195.75 444.24 L196.20 444.01 L196.65 442.83 L197.10 442.34 L197.55 441.22 L198.00 441.60 L198.45 440.19 L198.90 439.85 L199.35 439.67 L199.80 439.85 L200.25 438.91 L200.70 439.33 L201.15 438.48 L201.60 438.26 L202.05 437.98 L202.50 437.00 L202.95 437.32 L203.40 436.69 L203.85 436.17 L204.30 437.02 L204.75 435.89 L205.20 436.09 L205.65 436.25 L206.10 435.82 L206.55 435.31 L207.00 435.40 L207.45 435.26 L207.90 435.39 L208.35 434.26 L208.80 434.71 L209.25 434.08 L209.70 433.92 L210.15 434.41 L210.60 433.82 L211.05 433.67 L211.50 433.73 L211.95 433.72 L212.40 432.84 L212.85 432.85 L213.30 432.48 L213.75 432.27 L214.20 432.30 L214.65 431.74 L215.10 431.63 L215.55 431.33 L216.00 431.75 L216.45 431.19 L216.90 431.22 L217.35 431.09 L217.80 429.91 L218.25 430.11 L218.70 430.43 L219.15 430.07 L219.60 428.88 L220.05 428.66 L220.50 428.90 L220.95 428.18 L221.40 428.21 L221.85 427.77 L222.30 428.40 L222.75 428.35 L223.20 428.30 L223.65 427.06 L224.10 427.64 L224.55 427.35 L225.00 426.41 L225.45 427.19 L225.90 427.02 L226.35 425.66 L226.80 426.37 L227.25 425.28 L227.70 425.08 L228.15 425.47 L228.60 424.93 L229.05 423.68 L229.50 423.74 L229.95 423.54 L230.40 422.98 L230.85 422.46 L231.30 422.30 L231.75 422.53 L232.20 421.20 L232.65 421.61 L233.10 421.10 L233.55 420.17 L234.00 420.19 L234.45 420.07 L234.90 419.29 L235.35 418.04 L235.80 418.92 L236.25 418.44 M237.00 451.59 L237.45 449.31 L237.90 448.26 L238.35 446.87 L238.80 447.04 L239.25 445.60 L239.70 444.67 L240.15 444.34 L240.60 444.29 L241.05 443.43 L241.50 441.91 L241.95 441.02 L242.40 441.38 L242.85 440.30 L243.30 440.04 L243.75 438.87 L244.20 438.55 L244.65 439.16 L245.10 438.51 L245.55 437.74 L246.00 438.68 L246.45 437.98 L246.90 437.94 L247.35 436.65 L247.80 437.46 L248.25 436.08 L248.70 436.93 L249.15 436.12 L249.60 435.75 L250.05 435.86 L250.50 436.19 L250.95 435.08 L251.40 434.69 L251.85 435.06 L252.30 434.46 L252.75 434.09 L253.20 433.97 L253.65 433.61 L254.10 433.61 L254.55 433.54 L255.00 433.30 L255.45 433.71 L255.90 432.82 L256.35 432.89 L256.80 432.21 L257.25 432.22 L257.70 431.53 L258.15 431.63 L258.60 431.07 L259.05 431.85 L259.50 431.36 L259.95 430.63 L260.40 430.80 L260.85 431.21 L261.30 429.83 L261.75 430.60 L262.20 429.83 L262.65 429.70 L263.10 429.96 L263.55 429.13 L264.00 429.08 L264.45 429.12 L264.90 429.33 L265.35 428.22 L265.80 428.69 L266.25 428.31 L266.70 428.00 L267.15 427.46 L267.60 427.17 L268.05 426.55 L268.50 426.44 L268.95 426.10 L269.40 426.74 L269.85 425.74 L270.30 425.29 L270.75 424.86 L271.20 425.59 L271.65 425.31 L272.10 424.70 L272.55 423.83 L273.00 423.45 L273.45 423.20 L273.90 423.11 L274.35 422.36 L274.80 422.42 L275.25 421.82 L275.70 422.44 L276.15 422.11 L276.60 421.16 L277.05 420.37 L277.50 420.92 L277.95 419.43 L278.40 418.82 L278.85 417.75 L279.30 417.97 M280.30 450.86 L280.75 449.74 L281.20 448.00 L281.65 447.34 L282.10 445.79 L282.55 445.39 L283.00 444.38 L283.45 444.04 L283.90 442.78 L284.35 441.98 L284.80 441.61 L285.25 440.75 L285.70 440.55 L286.15 439.95 L286.60 439.89 L287.05 439.47 L287.50 439.26 L287.95 439.20 L288.40 438.23 L288.85 437.85 L289.30 438.49 L289.75 437.03 L290.20 437.55 L290.65 437.15 L291.10 436.02 L291.55 436.86 L292.00 436.70 L292.45 436.11 L292.90 436.06 L293.35 435.97 L293.80 434.83 L294.25 435.17 L294.70 434.94 L295.15 435.20 L295.60 434.96 L296.05 434.79 L296.50 434.23 L296.95 434.43 L297.40 433.90 L297.85 433.67 L298.30 432.79 L298.75 432.27 L299.20 432.18 L299.65 432.26 L300.10 431.66 L300.55 432.44 L301.00 431.82 L301.45 431.68 L301.90 431.44 L302.35 431.27 L302.80 430.77 L303.25 429.85 L303.70 430.72 L304.15 430.42 L304.60 429.84 L305.05 429.66 L305.50 429.61 L305.95 428.56 L306.40 429.28 L306.85 428.38 L307.30 427.91 L307.75 427.96 L308.20 428.39 L308.65 427.44 L309.10 427.97 L309.55 428.08 L310.00 427.18 L310.45 426.80 L310.90 426.67 L311.35 426.65 L311.80 426.43 L312.25 425.88 L312.70 425.58 L313.15 424.45 L313.60 424.21 L314.05 424.02 L314.50 424.37 L314.95 423.41 L315.40 423.44 L315.85 422.33 L316.30 422.04 L316.75 421.98 L317.20 422.17 L317.65 421.84 L318.10 421.45 L318.55 420.54" fill="none" stroke="#111" stroke-width="2.00" stroke-linejoin="round"/>
<path d="M109.65 419.00L109.90 385.06 M151.15 419.00L151.40 385.06 M191.75 419.00L192.00 385.06 M236.15 419.00L236.40 385.06 M279.45 419.00L279.70 385.06" fill="none" stroke="#111" stroke-width="1.30"/>
<path d="M109.90 385.06L109.90 344.80 M151.40 385.06L151.40 344.80 M192.00 385.06L192.00 344.80 M236.40 385.06L236.40 344.80 M279.70 385.06L279.70 344.80" fill="none" stroke="#555" stroke-width="0.90"/>
<path d="M110.05 345.30L110.50 450.80 M151.55 345.30L152.00 450.80 M192.15 345.30L192.60 450.80 M236.55 345.30L237.00 450.80 M279.85 345.30L280.30 450.80" fill="none" stroke="#777" stroke-width="0.77"/>
<path d="M362.00 433.56 L362.45 433.30 L362.90 432.81 L363.35 433.77 L363.80 432.35 L364.25 432.96 L364.70 433.41 L365.15 432.02 L365.60 432.56 L366.05 432.49 L366.50 431.46 L366.95 431.80 L367.40 432.11 L367.85 431.57 L368.30 431.81 L368.75 430.79 L369.20 430.74 L369.65 430.38 L370.10 430.81 L370.55 431.26 L371.00 430.59 L371.45 430.70 L371.90 429.95 L372.35 430.32 L372.80 429.19 L373.25 429.30 L373.70 429.71 L374.15 429.62 L374.60 428.96 L375.05 428.17 L375.50 428.06 L375.95 427.56 L376.40 427.24 L376.85 427.61 L377.30 426.27 L377.75 426.88 L378.20 426.45 L378.65 424.66 L379.10 424.35 L379.55 423.49 L380.00 421.77 L380.45 421.58 L380.90 421.85 L381.35 420.47 M382.20 448.99 L382.65 447.26 L383.10 446.74 L383.55 446.15 L384.00 444.24 L384.45 443.23 L384.90 442.64 L385.35 442.63 L385.80 441.15 L386.25 440.64 L386.70 440.75 L387.15 440.99 L387.60 439.87 L388.05 439.47 L388.50 439.46 L388.95 438.27 L389.40 438.62 L389.85 437.64 L390.30 437.92 L390.75 438.08 L391.20 436.35 L391.65 436.76 L392.10 436.58 L392.55 435.73 L393.00 435.77 L393.45 436.73 L393.90 436.61 L394.35 435.16 L394.80 435.91 L395.25 436.14 L395.70 434.94 L396.15 435.37 L396.60 434.39 L397.05 434.74 L397.50 435.07 L397.95 434.82 L398.40 434.96 L398.85 433.80 L399.30 434.06 L399.75 434.70 L400.20 434.15 L400.65 433.82 L401.10 433.62 L401.55 434.36 L402.00 433.61 L402.45 432.65 L402.90 433.69 L403.35 432.85 L403.80 432.88 L404.25 432.40 L404.70 432.59 L405.15 432.24 L405.60 431.72 L406.05 432.36 L406.50 431.40 L406.95 432.25 L407.40 430.95 L407.85 431.91 L408.30 431.78 L408.75 431.15 L409.20 431.30 L409.65 430.44 L410.10 431.00 L410.55 430.36 L411.00 429.90 L411.45 430.84 L411.90 429.82 L412.35 429.61 L412.80 430.17 L413.25 429.27 L413.70 429.55 L414.15 428.61 L414.60 429.34 L415.05 428.10 L415.50 427.36 L415.95 428.33 L416.40 426.70 L416.85 427.44 L417.30 427.08 L417.75 426.09 L418.20 424.67 L418.65 423.97 L419.10 423.19 L419.55 422.42 L420.00 421.94 L420.45 421.97 L420.90 420.85 M421.80 448.33 L422.25 448.02 L422.70 446.21 L423.15 445.09 L423.60 444.91 L424.05 444.41 L424.50 442.79 L424.95 442.70 L425.40 442.40 L425.85 441.86 L426.30 440.76 L426.75 441.10 L427.20 439.66 L427.65 440.12 L428.10 439.85 L428.55 439.65 L429.00 438.72 L429.45 437.76 L429.90 437.33 L430.35 437.69 L430.80 436.80 L431.25 437.13 L431.70 436.00 L432.15 436.81 L432.60 435.82 L433.05 435.38 L433.50 435.50 L433.95 435.79 L434.40 435.82 L434.85 435.44 L435.30 434.99 L435.75 435.32 L436.20 435.89 L436.65 435.15 L437.10 435.63 L437.55 434.14 L438.00 435.46 L438.45 435.17 L438.90 434.53 L439.35 434.37 L439.80 434.27 L440.25 434.70 L440.70 433.31 L441.15 434.05 L441.60 433.77 L442.05 433.28 L442.50 433.79 L442.95 433.66 L443.40 432.60 L443.85 433.37 L444.30 432.87 L444.75 432.78 L445.20 432.85 L445.65 431.81 L446.10 432.47 L446.55 431.96 L447.00 432.56 L447.45 431.42 L447.90 432.15 L448.35 431.84 L448.80 431.52 L449.25 431.74 L449.70 430.31 L450.15 430.99 L450.60 430.85 L451.05 430.79 L451.50 430.22 L451.95 429.55 L452.40 429.57 L452.85 430.03 L453.30 429.23 L453.75 428.89 L454.20 429.16 L454.65 429.17 L455.10 429.05 L455.55 427.98 L456.00 428.72 L456.45 427.65 L456.90 427.92 L457.35 426.35 L457.80 427.36 L458.25 426.40 L458.70 426.58 L459.15 426.05 L459.60 425.06 L460.05 422.98 L460.50 422.35 L460.95 421.38 L461.40 421.70 L461.85 420.62 M462.80 448.43 L463.25 447.25 L463.70 446.06 L464.15 446.23 L464.60 445.41 L465.05 443.78 L465.50 443.64 L465.95 442.54 L466.40 441.93 L466.85 441.08 L467.30 440.97 L467.75 439.98 L468.20 439.64 L468.65 439.66 L469.10 438.81 L469.55 438.80 L470.00 439.19 L470.45 437.43 L470.90 437.18 L471.35 437.86 L471.80 436.38 L472.25 436.32 L472.70 436.97 L473.15 436.42 L473.60 435.71 L474.05 435.34 L474.50 435.53 L474.95 435.44 L475.40 436.06 L475.85 436.19 L476.30 435.78 L476.75 435.82 L477.20 435.73 L477.65 435.52 L478.10 435.45 L478.55 435.39 L479.00 433.95 L479.45 434.16 L479.90 433.92 L480.35 434.33 L480.80 434.03 L481.25 433.68 L481.70 434.28 L482.15 433.50 L482.60 433.08 L483.05 433.05 L483.50 433.20 L483.95 433.29 L484.40 433.09 L484.85 432.76 L485.30 432.22 L485.75 432.38 L486.20 432.09 L486.65 431.69 L487.10 432.09 L487.55 431.38 L488.00 432.00 L488.45 431.75 L488.90 430.80 L489.35 431.37 L489.80 430.77 L490.25 430.76 L490.70 430.83 L491.15 430.90 L491.60 430.91 L492.05 430.52 L492.50 429.57 L492.95 429.89 L493.40 429.42 L493.85 428.77 L494.30 429.41 L494.75 429.10 L495.20 429.43 L495.65 428.27 L496.10 428.62 L496.55 427.72 L497.00 426.68 L497.45 427.18 L497.90 426.11 L498.35 426.06 L498.80 424.89 L499.25 424.08 L499.70 424.49 L500.15 422.11 L500.60 421.40 L501.05 420.84 L501.50 420.49 M502.50 449.33 L502.95 448.56 L503.40 446.84 L503.85 445.39 L504.30 445.25 L504.75 443.96 L505.20 442.71 L505.65 442.84 L506.10 441.65 L506.55 440.90 L507.00 440.48 L507.45 440.18 L507.90 439.50 L508.35 439.77 L508.80 439.79 L509.25 438.97 L509.70 437.75 L510.15 438.39 L510.60 437.02 L511.05 437.34 L511.50 437.55 L511.95 436.93 L512.40 437.02 L512.85 436.63 L513.30 435.77 L513.75 435.45 L514.20 435.78 L514.65 435.99 L515.10 435.19 L515.55 435.20 L516.00 435.70 L516.45 434.97 L516.90 435.21 L517.35 435.00 L517.80 435.44 L518.25 433.96 L518.70 434.07 L519.15 434.82 L519.60 434.53 L520.05 433.54 L520.50 433.46 L520.95 433.45 L521.40 433.81 L521.85 434.22 L522.30 433.06 L522.75 432.91 L523.20 433.50 L523.65 432.98 L524.10 433.48 L524.55 433.56 L525.00 433.30 L525.45 432.80 L525.90 432.31 L526.35 431.48 L526.80 432.43 L527.25 431.65 L527.70 431.58 L528.15 431.66 L528.60 431.99 L529.05 431.21 L529.50 431.58 L529.95 431.48 L530.40 430.00 L530.85 430.23 L531.30 430.86 L531.75 430.51 L532.20 430.65 L532.65 429.30 L533.10 429.65 L533.55 430.08 L534.00 429.33 L534.45 429.32 L534.90 429.48 L535.35 427.89 L535.80 427.29 L536.25 428.07 L536.70 427.23 L537.15 426.24 L537.60 426.76 L538.05 425.51 L538.50 424.71 L538.95 424.14 L539.40 422.70 L539.85 422.26 L540.30 422.05 L540.75 421.14 L541.20 421.73 M542.00 448.09 L542.45 447.15 L542.90 445.84 L543.35 445.41 L543.80 443.97 L544.25 443.93 L544.70 442.97 L545.15 442.32 L545.60 442.01 L546.05 441.35 L546.50 441.09 L546.95 439.54 L547.40 439.49 L547.85 439.97 L548.30 438.72 L548.75 438.16 L549.20 438.06 L549.65 437.21 L550.10 437.82 L550.55 437.11 L551.00 435.97 L551.45 437.04 L551.90 436.22 L552.35 435.68 L552.80 436.08 L553.25 436.44 L553.70 435.40 L554.15 434.76 L554.60 434.90 L555.05 434.55 L555.50 435.11 L555.95 434.65 L556.40 435.32 L556.85 434.21 L557.30 433.79 L557.75 434.32 L558.20 433.67 L558.65 433.81 L559.10 433.54 L559.55 433.33 L560.00 433.88 L560.45 434.19 L560.90 433.20 L561.35 433.47 L561.80 432.85 L562.25 433.60 L562.70 432.90 L563.15 431.94 L563.60 432.83 L564.05 431.86 L564.50 431.43 L564.95 431.21 L565.40 432.26 L565.85 431.89 L566.30 431.18 L566.75 431.30 L567.20 431.34 L567.65 430.22 L568.10 430.98 L568.55 430.81 L569.00 430.98 L569.45 429.47 L569.90 430.07 L570.35 429.79 L570.80 430.12 L571.25 429.21 L571.70 429.48 L572.15 429.60 L572.60 428.44 L573.05 428.26 L573.50 428.37 L573.95 426.64 L574.40 427.60 L574.85 426.15 L575.30 425.92 L575.75 425.13 L576.20 425.09 L576.65 423.62 L577.10 422.85 L577.55 421.06 L578.00 421.77 L578.45 421.51 M579.20 449.10 L579.65 447.37 L580.10 446.20 L580.55 445.42 L581.00 443.97 L581.45 444.58 L581.90 443.05 L582.35 443.16 L582.80 441.31 L583.25 441.40 L583.70 441.13 L584.15 440.51 L584.60 439.80 L585.05 438.82 L585.50 439.06 L585.95 438.62 L586.40 439.07 L586.85 438.74 L587.30 438.34 L587.75 437.99 L588.20 436.40 L588.65 435.88 L589.10 436.04 L589.55 435.47 L590.00 435.50 L590.45 436.05 L590.90 435.36 L591.35 435.84 L591.80 435.36 L592.25 435.07" fill="none" stroke="#E0201E" stroke-width="1.85" stroke-linejoin="round"/>
<path d="M381.35 422.00L381.60 400.48 M420.95 422.00L421.20 400.63 M461.95 422.00L462.20 400.90 M501.65 422.00L501.90 401.14 M541.15 422.00L541.40 400.69 M578.35 422.00L578.60 400.96" fill="none" stroke="#E0201E" stroke-width="1.30"/>
<path d="M381.60 400.48L381.60 352.60 M421.20 400.63L421.20 353.10 M462.20 400.90L462.20 354.00 M501.90 401.14L501.90 354.80 M541.40 400.69L541.40 353.30 M578.60 400.96L578.60 354.20" fill="none" stroke="#E9524E" stroke-width="0.90"/>
<path d="M381.75 353.10L382.20 448.60 M421.35 353.60L421.80 448.60 M462.35 354.50L462.80 448.60 M502.05 355.30L502.50 448.60 M541.55 353.80L542.00 448.60 M578.75 354.70L579.20 448.60" fill="none" stroke="#EE7672" stroke-width="0.77"/>
<path d="M619 430.8V453.9M596.1 453.2H619.9" stroke="#231F20" stroke-width="2.2" fill="none"/>
<path d="M131.9 560V541.7H185V555" stroke="#000" stroke-width="2.5" fill="none" stroke-linejoin="miter"/>
<text transform="translate(0.1 20.7) scale(0.9529 1)" font-weight="normal" font-size="20" fill="#231F20">A.</text>
<text transform="translate(-0.24 211.6) scale(0.9613 1)" font-weight="normal" font-size="20" fill="#231F20">B.</text>
<text transform="translate(0.3 351) scale(0.9043 1)" font-weight="normal" font-size="20" fill="#231F20">C.</text>
<text transform="translate(-0.2 516.9) scale(0.9313 1)" font-weight="normal" font-size="20" fill="#231F20">D.</text>
<text transform="translate(230.04 517.1) scale(0.9097 1)" font-weight="normal" font-size="20" fill="#231F20">E.</text>
<text transform="translate(455.34 517.7) scale(0.9061 1)" font-weight="normal" font-size="20" fill="#231F20">F.</text>
<text transform="translate(0.31 801.9) scale(0.8932 1)" font-weight="normal" font-size="20" fill="#231F20">G.</text>
<text transform="translate(242.99 801.9) scale(0.8716 1)" font-weight="normal" font-size="20" fill="#231F20">H.</text>
<text transform="translate(455.44 801.7) scale(0.8933 1)" font-weight="normal" font-size="20" fill="#231F20">I.</text>
<text transform="translate(259.1 13.9) scale(0.9754 1)" font-weight="normal" font-size="19.2" fill="#231F20">AAV-TH-hαSyn (1μL)</text>
<text transform="translate(469.94 124.3) scale(0.9755 1)" font-weight="normal" font-size="19.2" fill="#231F20">Electrophysiology</text>
<text transform="translate(501.17 146.8) scale(0.9833 1)" font-weight="normal" font-size="19.2" fill="#231F20">(Baseline)</text>
<text transform="translate(354.27 65.8) scale(0.9165 1)" font-weight="bold" font-size="16.8" fill="#231F20">4 weeks</text>
<text transform="translate(98.7 218.1) scale(1.0004 1)" font-weight="bold" font-size="23.5" fill="#231F20">Non-injected (No-Inj)</text>
<text transform="translate(423.31 218.4) scale(0.9901 1)" font-weight="bold" font-size="23.5" fill="#231F20">Injected (Inj)</text>
<text transform="translate(625.2 446.1) scale(1.0087 1)" font-weight="bold" font-size="15.3" fill="#000">20mV</text>
<text transform="translate(596.7 469.7) scale(0.9900 1)" font-weight="bold" font-size="16" fill="#000">0.2s</text>
<text transform="translate(147.48 548) scale(0.9600 1)" font-weight="normal" font-size="42" fill="#000">*</text>
<text transform="translate(104.22 751.2) scale(0.9439 1)" font-weight="bold" font-size="19.8" fill="#000">No-Inj</text>
<text transform="translate(172.84 751.2) scale(0.9317 1)" font-weight="bold" font-size="19.8" fill="#000">Inj</text>
<text transform="translate(320.12 752.6) scale(0.9402 1)" font-weight="bold" font-size="19.8" fill="#000">No-Inj</text>
<text transform="translate(392.13 752.6) scale(0.9366 1)" font-weight="bold" font-size="19.8" fill="#000">Inj</text>
<text transform="translate(558.01 754.4) scale(0.9495 1)" font-weight="bold" font-size="19.8" fill="#000">No-Inj</text>
<text transform="translate(627.67 754.4) scale(0.9024 1)" font-weight="bold" font-size="19.8" fill="#000">Inj</text>
<text transform="translate(101.3 1027.4) scale(0.9626 1)" font-weight="bold" font-size="19.8" fill="#000">No-Inj</text>
<text transform="translate(169.69 1027.4) scale(0.9659 1)" font-weight="bold" font-size="19.8" fill="#000">Inj</text>
<text transform="translate(321.81 1029.7) scale(0.9533 1)" font-weight="bold" font-size="19.8" fill="#000">No-Inj</text>
<text transform="translate(389.05 1029.7) scale(0.9171 1)" font-weight="bold" font-size="19.8" fill="#000">Inj</text>
<text transform="translate(553.31 1030.4) scale(0.9495 1)" font-weight="bold" font-size="19.8" fill="#000">No-Inj</text>
<text transform="translate(621.77 1030.4) scale(0.9073 1)" font-weight="bold" font-size="19.8" fill="#000">Inj</text>
<text transform="translate(32.2 311.4) rotate(-90) scale(0.9348 1)" font-weight="bold" font-size="24.8" fill="#231F20">SNc</text>
<text transform="translate(35.9 421.85) rotate(-90) scale(0.9904 1)" font-weight="bold" font-size="24.8" fill="#231F20">VTA</text>
<text transform="translate(19.6 628.61) rotate(-90) scale(0.9433 1)" font-weight="bold" font-size="24.8" fill="#000">SNc</text>
<text transform="translate(19.3 923.04) rotate(-90) scale(0.9711 1)" font-weight="bold" font-size="24.8" fill="#000">VTA</text>
<text transform="translate(57.8 720.24) rotate(-90) scale(0.9773 1)" font-weight="bold" font-size="20.8" fill="#000">firing frequency [Hz]</text>
<text transform="translate(267.5 692.06) rotate(-90) scale(0.9742 1)" font-weight="bold" font-size="20.8" fill="#000">half-width [ms]</text>
<text transform="translate(495.7 738.82) rotate(-90) scale(1.0222 1)" font-weight="bold" font-size="17.2" fill="#000">membrane capacitance [pF]</text>
<text transform="translate(52.7 1000.04) rotate(-90) scale(0.9753 1)" font-weight="bold" font-size="20.8" fill="#000">firing frequency [Hz]</text>
<text transform="translate(267.2 973.79) rotate(-90) scale(0.9914 1)" font-weight="bold" font-size="20.8" fill="#000">half-width [ms]</text>
<text transform="translate(495.9 1016.31) rotate(-90) scale(1.0050 1)" font-weight="bold" font-size="16.8" fill="#000">membrane capacitance [pF]</text>
<text x="71.75" y="731.7" font-weight="bold" font-size="15.8">0</text>
<text x="71.75" y="689.82" font-weight="bold" font-size="15.8">2</text>
<text x="71.25" y="647.94" font-weight="bold" font-size="15.8">4</text>
<text x="71.75" y="606.06" font-weight="bold" font-size="15.8">6</text>
<text x="71.75" y="564.18" font-weight="bold" font-size="15.8">8</text>
<text x="63" y="522.3" font-weight="bold" font-size="15.8">10</text>
<path d="M131.7 657.5V676.3M120.4 657.5H143M120.4 676.3H143" stroke="#231F20" stroke-width="1.4" fill="none"/>
<path d="M185 628.3V645.6M174 628.3H196M174 645.6H196" stroke="#231F20" stroke-width="1.4" fill="none"/>
<circle cx="131.8" cy="575.3" r="3.3" fill="#6497D2"/>
<circle cx="131.8" cy="623.9" r="3.3" fill="#6497D2"/>
<circle cx="122.5" cy="633.5" r="3.3" fill="#6497D2"/>
<circle cx="131.8" cy="636.5" r="3.3" fill="#6497D2"/>
<circle cx="131.7" cy="654" r="3.3" fill="#6497D2"/>
<circle cx="136.1" cy="673.1" r="3.3" fill="#6497D2"/>
<circle cx="127" cy="675.5" r="3.3" fill="#6497D2"/>
<circle cx="122.3" cy="684.2" r="3.3" fill="#6497D2"/>
<circle cx="131.7" cy="683.2" r="3.3" fill="#6497D2"/>
<circle cx="113.3" cy="686.9" r="3.3" fill="#6497D2"/>
<circle cx="140.7" cy="686.4" r="3.3" fill="#6497D2"/>
<circle cx="149.9" cy="686.9" r="3.3" fill="#6497D2"/>
<circle cx="131.7" cy="690.5" r="3.3" fill="#6497D2"/>
<circle cx="136.1" cy="704.4" r="3.3" fill="#6497D2"/>
<circle cx="127" cy="710.3" r="3.3" fill="#6497D2"/>
<circle cx="185" cy="569.9" r="3.3" fill="#F28020"/>
<circle cx="185" cy="580" r="3.3" fill="#F28020"/>
<circle cx="187.8" cy="616.1" r="3.3" fill="#F28020"/>
<circle cx="182.4" cy="621" r="3.3" fill="#F28020"/>
<circle cx="166.8" cy="647.3" r="3.3" fill="#F28020"/>
<circle cx="172.1" cy="643.1" r="3.3" fill="#F28020"/>
<circle cx="177.1" cy="645.6" r="3.3" fill="#F28020"/>
<circle cx="182.4" cy="648.6" r="3.3" fill="#F28020"/>
<circle cx="187.8" cy="648.6" r="3.3" fill="#F28020"/>
<circle cx="192.9" cy="645.1" r="3.3" fill="#F28020"/>
<circle cx="198.2" cy="644.5" r="3.3" fill="#F28020"/>
<circle cx="203.4" cy="645.8" r="3.3" fill="#F28020"/>
<circle cx="185" cy="663.1" r="3.3" fill="#F28020"/>
<circle cx="185" cy="697.9" r="3.3" fill="#F28020"/>
<path d="M109.2 666.7H154.2" stroke="#000" stroke-width="2.6"/>
<path d="M162.4 637.1H207.6" stroke="#000" stroke-width="2.6"/>
<path d="M89.2 514.6V727.6M88 725.4H230.1M81.9 725.4H89.2M81.9 683.52H89.2M81.9 641.64H89.2M81.9 599.76H89.2M81.9 557.88H89.2M81.9 516H89.2M131.4 725.4V734.7M184.9 725.4V734.7" stroke="#000" stroke-width="2.4" fill="none"/>
<text x="277.95" y="733.8" font-weight="bold" font-size="15.8">0.0</text>
<text x="277.7" y="691.85" font-weight="bold" font-size="15.8">0.5</text>
<text x="277.95" y="649.9" font-weight="bold" font-size="15.8">1.0</text>
<text x="277.7" y="607.95" font-weight="bold" font-size="15.8">1.5</text>
<text x="277.95" y="566" font-weight="bold" font-size="15.8">2.0</text>
<text x="277.7" y="524.05" font-weight="bold" font-size="15.8">2.5</text>
<path d="M350.9 616.7V631.1M340.1 616.7H361.7M340.1 631.1H361.7" stroke="#231F20" stroke-width="1.4" fill="none"/>
<path d="M404.6 615V626.8M393.4 615H415.8M393.4 626.8H415.8" stroke="#231F20" stroke-width="1.4" fill="none"/>
<circle cx="351.1" cy="547.6" r="3.3" fill="#6497D2"/>
<circle cx="360.1" cy="596.6" r="3.3" fill="#6497D2"/>
<circle cx="350.9" cy="601.6" r="3.3" fill="#6497D2"/>
<circle cx="350.9" cy="611.5" r="3.3" fill="#6497D2"/>
<circle cx="341.7" cy="619.5" r="3.3" fill="#6497D2"/>
<circle cx="360.1" cy="618.3" r="3.3" fill="#6497D2"/>
<circle cx="350.9" cy="623.7" r="3.3" fill="#6497D2"/>
<circle cx="350.9" cy="630.1" r="3.3" fill="#6497D2"/>
<circle cx="332.6" cy="638.6" r="3.3" fill="#6497D2"/>
<circle cx="341.7" cy="642.4" r="3.3" fill="#6497D2"/>
<circle cx="350.9" cy="641.1" r="3.3" fill="#6497D2"/>
<circle cx="360.1" cy="642.8" r="3.3" fill="#6497D2"/>
<circle cx="369.4" cy="640" r="3.3" fill="#6497D2"/>
<circle cx="346.3" cy="653.7" r="3.3" fill="#6497D2"/>
<circle cx="355.5" cy="652.4" r="3.3" fill="#6497D2"/>
<circle cx="404.6" cy="572.2" r="3.3" fill="#F28020"/>
<circle cx="408.3" cy="592.8" r="3.3" fill="#F28020"/>
<circle cx="401" cy="595.5" r="3.3" fill="#F28020"/>
<circle cx="404.6" cy="602.6" r="3.3" fill="#F28020"/>
<circle cx="408.3" cy="619.4" r="3.3" fill="#F28020"/>
<circle cx="401" cy="621.8" r="3.3" fill="#F28020"/>
<circle cx="393.6" cy="627.9" r="3.3" fill="#F28020"/>
<circle cx="386.3" cy="632" r="3.3" fill="#F28020"/>
<circle cx="393.6" cy="634.8" r="3.3" fill="#F28020"/>
<circle cx="401" cy="632.3" r="3.3" fill="#F28020"/>
<circle cx="408.3" cy="636.6" r="3.3" fill="#F28020"/>
<circle cx="415.6" cy="633.7" r="3.3" fill="#F28020"/>
<circle cx="423" cy="635.5" r="3.3" fill="#F28020"/>
<circle cx="404.6" cy="655.7" r="3.3" fill="#F28020"/>
<path d="M328.2 624H373.6" stroke="#000" stroke-width="2.6"/>
<path d="M382.1 620.8H427.1" stroke="#000" stroke-width="2.6"/>
<path d="M308.1 516.2V729.7M306.9 727.5H449.6M300.8 727.5H308.1M300.8 685.55H308.1M300.8 643.6H308.1M300.8 601.65H308.1M300.8 559.7H308.1M300.8 517.75H308.1M350.6 727.5V737.2M404.4 727.5V737.2" stroke="#000" stroke-width="2.4" fill="none"/>
<text x="524.25" y="734.4" font-weight="bold" font-size="15.8">0</text>
<text x="515.5" y="664.03" font-weight="bold" font-size="15.8">50</text>
<text x="506.75" y="593.67" font-weight="bold" font-size="15.8">100</text>
<text x="506.75" y="523.3" font-weight="bold" font-size="15.8">150</text>
<path d="M585 620.5V633.6M573.6 620.5H596.4M573.6 633.6H596.4" stroke="#231F20" stroke-width="1.4" fill="none"/>
<path d="M639 627.4V643.1M627.8 627.4H650.2M627.8 643.1H650.2" stroke="#231F20" stroke-width="1.4" fill="none"/>
<circle cx="585" cy="566.1" r="3.3" fill="#6497D2"/>
<circle cx="591.5" cy="596.6" r="3.3" fill="#6497D2"/>
<circle cx="579.1" cy="602.1" r="3.3" fill="#6497D2"/>
<circle cx="585" cy="614.3" r="3.3" fill="#6497D2"/>
<circle cx="566.6" cy="623.8" r="3.3" fill="#6497D2"/>
<circle cx="579.1" cy="621.5" r="3.3" fill="#6497D2"/>
<circle cx="591.5" cy="626.3" r="3.3" fill="#6497D2"/>
<circle cx="603.5" cy="625" r="3.3" fill="#6497D2"/>
<circle cx="591.5" cy="633.9" r="3.3" fill="#6497D2"/>
<circle cx="603.5" cy="632.7" r="3.3" fill="#6497D2"/>
<circle cx="579.1" cy="637.6" r="3.3" fill="#6497D2"/>
<circle cx="566.6" cy="649.9" r="3.3" fill="#6497D2"/>
<circle cx="603.5" cy="654.4" r="3.3" fill="#6497D2"/>
<circle cx="566.6" cy="659.6" r="3.3" fill="#6497D2"/>
<circle cx="591.5" cy="659.6" r="3.3" fill="#6497D2"/>
<circle cx="626.5" cy="599.7" r="3.3" fill="#F28020"/>
<circle cx="639" cy="598.5" r="3.3" fill="#F28020"/>
<circle cx="651.7" cy="602.6" r="3.3" fill="#F28020"/>
<circle cx="639" cy="619.9" r="3.3" fill="#F28020"/>
<circle cx="651.7" cy="617.5" r="3.3" fill="#F28020"/>
<circle cx="632.9" cy="630.7" r="3.3" fill="#F28020"/>
<circle cx="645.4" cy="630.7" r="3.3" fill="#F28020"/>
<circle cx="626.5" cy="637.4" r="3.3" fill="#F28020"/>
<circle cx="639" cy="643.1" r="3.3" fill="#F28020"/>
<circle cx="651.9" cy="642.6" r="3.3" fill="#F28020"/>
<circle cx="626.5" cy="646.3" r="3.3" fill="#F28020"/>
<circle cx="651.9" cy="649.5" r="3.3" fill="#F28020"/>
<circle cx="639.2" cy="674.2" r="3.3" fill="#F28020"/>
<circle cx="639.2" cy="700.9" r="3.3" fill="#F28020"/>
<path d="M562.1 627.1H607.9" stroke="#000" stroke-width="2.6"/>
<path d="M616 635H662" stroke="#000" stroke-width="2.6"/>
<path d="M541.6 515.2V730.3M540.4 728.1H685M534.3 728.1H541.6M534.3 657.74H541.6M534.3 587.37H541.6M534.3 517H541.6M585 728.1V737.6M638.9 728.1V737.6" stroke="#000" stroke-width="2.4" fill="none"/>
<text x="70.85" y="1009.2" font-weight="bold" font-size="15.8">0</text>
<text x="70.85" y="968.1" font-weight="bold" font-size="15.8">2</text>
<text x="70.35" y="927" font-weight="bold" font-size="15.8">4</text>
<text x="70.85" y="885.9" font-weight="bold" font-size="15.8">6</text>
<text x="70.85" y="844.8" font-weight="bold" font-size="15.8">8</text>
<text x="62.1" y="803.7" font-weight="bold" font-size="15.8">10</text>
<path d="M129.8 918.5V950.9M118.6 918.5H141M118.6 950.9H141" stroke="#231F20" stroke-width="1.4" fill="none"/>
<path d="M182 921.3V940.5M170.9 921.3H193.1M170.9 940.5H193.1" stroke="#231F20" stroke-width="1.4" fill="none"/>
<circle cx="129.8" cy="836.1" r="3.3" fill="#6497D2"/>
<circle cx="123.7" cy="918.6" r="3.3" fill="#6497D2"/>
<circle cx="135.9" cy="923.4" r="3.3" fill="#6497D2"/>
<circle cx="123.7" cy="942.1" r="3.3" fill="#6497D2"/>
<circle cx="135.9" cy="945.6" r="3.3" fill="#6497D2"/>
<circle cx="123.7" cy="961" r="3.3" fill="#6497D2"/>
<circle cx="135.9" cy="961.4" r="3.3" fill="#6497D2"/>
<circle cx="129.8" cy="988.7" r="3.3" fill="#6497D2"/>
<circle cx="182" cy="878.7" r="3.3" fill="#F28020"/>
<circle cx="175.9" cy="918.1" r="3.3" fill="#F28020"/>
<circle cx="188.1" cy="915.1" r="3.3" fill="#F28020"/>
<circle cx="182" cy="928.6" r="3.3" fill="#F28020"/>
<circle cx="169.7" cy="945.8" r="3.3" fill="#F28020"/>
<circle cx="182" cy="951.4" r="3.3" fill="#F28020"/>
<circle cx="194.3" cy="949.6" r="3.3" fill="#F28020"/>
<circle cx="182" cy="961.9" r="3.3" fill="#F28020"/>
<path d="M107.8 934.8H151.8" stroke="#000" stroke-width="2.6"/>
<path d="M159.8 930.9H204.2" stroke="#000" stroke-width="2.6"/>
<path d="M87.8 796.2V1005.1M86.6 1002.9H226.5M80.5 1002.9H87.8M80.5 961.8H87.8M80.5 920.7H87.8M80.5 879.6H87.8M80.5 838.5H87.8M80.5 797.4H87.8M129.5 1002.9V1012.2M181.6 1002.9V1012.2" stroke="#000" stroke-width="2.4" fill="none"/>
<text x="277.05" y="1011.1" font-weight="bold" font-size="15.8">0.0</text>
<text x="276.8" y="970.12" font-weight="bold" font-size="15.8">0.5</text>
<text x="277.05" y="929.14" font-weight="bold" font-size="15.8">1.0</text>
<text x="276.8" y="888.16" font-weight="bold" font-size="15.8">1.5</text>
<text x="277.05" y="847.18" font-weight="bold" font-size="15.8">2.0</text>
<text x="276.8" y="806.2" font-weight="bold" font-size="15.8">2.5</text>
<path d="M348.6 914.2V923.7M337.7 914.2H359.5M337.7 923.7H359.5" stroke="#231F20" stroke-width="1.4" fill="none"/>
<path d="M400.8 913.7V923M389.9 913.7H411.7M389.9 923H411.7" stroke="#231F20" stroke-width="1.4" fill="none"/>
<circle cx="348.6" cy="900.4" r="3.3" fill="#6497D2"/>
<circle cx="342.5" cy="907.6" r="3.3" fill="#6497D2"/>
<circle cx="354.8" cy="907.3" r="3.3" fill="#6497D2"/>
<circle cx="348.6" cy="920.1" r="3.3" fill="#6497D2"/>
<circle cx="336.4" cy="922.9" r="3.3" fill="#6497D2"/>
<circle cx="361" cy="922.9" r="3.3" fill="#6497D2"/>
<circle cx="348.6" cy="931.4" r="3.3" fill="#6497D2"/>
<circle cx="348.6" cy="939.9" r="3.3" fill="#6497D2"/>
<circle cx="400.8" cy="892.5" r="3.3" fill="#F28020"/>
<circle cx="400.8" cy="906.5" r="3.3" fill="#F28020"/>
<circle cx="394.7" cy="919.8" r="3.3" fill="#F28020"/>
<circle cx="383" cy="923.8" r="3.3" fill="#F28020"/>
<circle cx="406.7" cy="922.2" r="3.3" fill="#F28020"/>
<circle cx="418.8" cy="920.5" r="3.3" fill="#F28020"/>
<circle cx="406.7" cy="928.7" r="3.3" fill="#F28020"/>
<circle cx="394.7" cy="932.2" r="3.3" fill="#F28020"/>
<path d="M326.5 919H370.7" stroke="#000" stroke-width="2.6"/>
<path d="M378.9 918.2H422.7" stroke="#000" stroke-width="2.6"/>
<path d="M306.6 798.1V1007M305.4 1004.8H445.3M299.3 1004.8H306.6M299.3 963.82H306.6M299.3 922.84H306.6M299.3 881.86H306.6M299.3 840.88H306.6M299.3 799.9H306.6M348.5 1004.8V1014M400.6 1004.8V1014" stroke="#000" stroke-width="2.4" fill="none"/>
<text x="523.25" y="1012.4" font-weight="bold" font-size="15.8">0</text>
<text x="514.5" y="944.87" font-weight="bold" font-size="15.8">50</text>
<text x="505.75" y="877.33" font-weight="bold" font-size="15.8">100</text>
<text x="505.75" y="809.79" font-weight="bold" font-size="15.8">150</text>
<path d="M581.5 882.3V900.4M570.5 882.3H592.5M570.5 900.4H592.5" stroke="#231F20" stroke-width="1.4" fill="none"/>
<path d="M633.4 900V918.4M622.5 900H644.3M622.5 918.4H644.3" stroke="#231F20" stroke-width="1.4" fill="none"/>
<circle cx="587.6" cy="862.7" r="3.3" fill="#6497D2"/>
<circle cx="575.4" cy="867.4" r="3.3" fill="#6497D2"/>
<circle cx="581.5" cy="874.6" r="3.3" fill="#6497D2"/>
<circle cx="575.4" cy="884.2" r="3.3" fill="#6497D2"/>
<circle cx="587.6" cy="884.7" r="3.3" fill="#6497D2"/>
<circle cx="581.5" cy="901.3" r="3.3" fill="#6497D2"/>
<circle cx="581.5" cy="920.5" r="3.3" fill="#6497D2"/>
<circle cx="581.5" cy="934.5" r="3.3" fill="#6497D2"/>
<circle cx="633.4" cy="872.3" r="3.3" fill="#F28020"/>
<circle cx="633.4" cy="883.9" r="3.3" fill="#F28020"/>
<circle cx="633.4" cy="893.5" r="3.3" fill="#F28020"/>
<circle cx="633.4" cy="899.6" r="3.3" fill="#F28020"/>
<circle cx="639.3" cy="916.3" r="3.3" fill="#F28020"/>
<circle cx="627.3" cy="920" r="3.3" fill="#F28020"/>
<circle cx="633.4" cy="936.9" r="3.3" fill="#F28020"/>
<circle cx="633.4" cy="950.9" r="3.3" fill="#F28020"/>
<path d="M559.8 891.1H603.2" stroke="#000" stroke-width="2.6"/>
<path d="M611.3 909.1H655.5" stroke="#000" stroke-width="2.6"/>
<path d="M540.3 801.8V1008.3M539.1 1006.1H677.3M533 1006.1H540.3M533 938.57H540.3M533 871.03H540.3M533 803.5H540.3M581.3 1006.1V1015.2M633.1 1006.1V1015.2" stroke="#000" stroke-width="2.4" fill="none"/>
</svg></body></html>
